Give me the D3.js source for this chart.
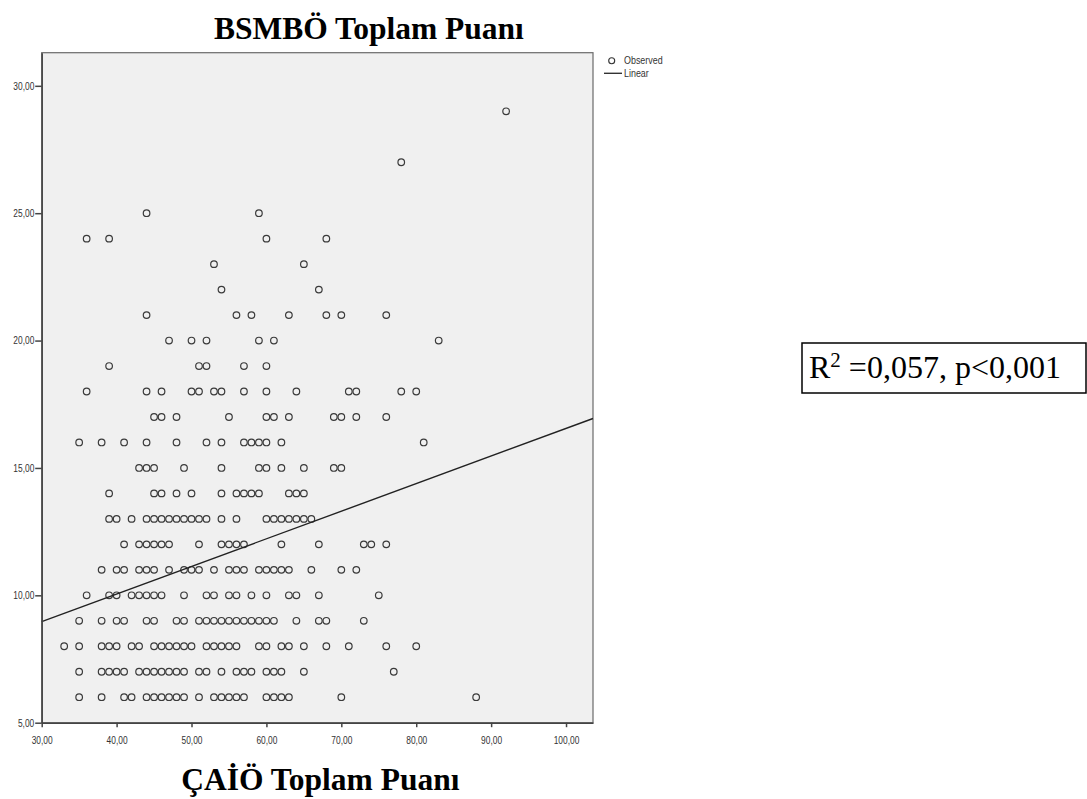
<!DOCTYPE html>
<html>
<head>
<meta charset="utf-8">
<script src="https://cdn.jsdelivr.net/npm/d3@7"></script>
<style>
  html, body { margin: 0; padding: 0; background: #ffffff; }
  svg { display: block; }
</style>
</head>
<body>
<svg id="chart" width="1087" height="799"></svg>
<script>
// ---------------- DATA ----------------
const titleTop = "BSMBÖ Toplam Puanı";
const titleBottom = "ÇAİÖ Toplam Puanı";
const xTicks = [30, 40, 50, 60, 70, 80, 90, 100];
const yTicks = [5, 10, 15, 20, 25, 30];
const xDomain = [30, 103.6];
const yDomain = [5, 31.3];

// Observed points: each y level with the x values read at that level
const yLevels = [6, 7, 8, 9, 10, 11, 12, 13, 14, 15, 16, 17, 18, 19, 20, 21, 22, 23, 24, 25, 27, 29];
const xAtLevel = [
  [35,38,41,42,44,45,46,47,48,49,51,53,54,55,56,57,60,61,62,63,70,88],
  [35,38,39,40,41,43,44,45,46,47,48,49,51,52,54,56,57,58,60,61,62,65,77],
  [33,35,38,39,40,42,43,45,46,47,48,49,50,52,53,54,55,56,59,60,62,63,65,68,71,76,80],
  [35,38,40,41,44,45,48,49,51,52,53,54,55,56,57,58,59,60,61,64,67,68,73],
  [36,39,40,42,43,44,45,46,49,52,53,55,56,58,60,63,64,67,75],
  [38,40,41,43,44,45,47,49,50,51,53,55,56,57,59,60,61,62,63,66,70,72],
  [41,43,44,45,46,47,51,54,55,56,57,62,67,73,74,76],
  [39,40,42,44,45,46,47,48,49,50,51,52,54,56,60,61,62,63,64,65,66],
  [39,45,46,48,50,54,56,57,58,59,63,64,65],
  [43,44,45,49,54,59,60,62,65,69,70],
  [35,38,41,44,48,52,54,57,58,59,60,62,81],
  [45,46,48,55,60,61,63,69,70,72,76],
  [36,44,46,50,51,53,54,57,60,64,71,72,78,80],
  [39,51,52,57,60],
  [47,50,52,59,61,83],
  [44,56,58,63,68,70,76],
  [54,67],
  [53,65],
  [36,39,60,68],
  [44,59],
  [78],
  [92]
];

// Linear fit line end points
const fitX = [30, 103.6];
const fitY = [8.97, 16.94];

const legendLabels = ["Observed", "Linear"];
const statText = ["R", "2", " =0,057, p<0,001"];

// ---------------- CHART ----------------
const svg = d3.select("#chart");
const pLeft = 41.7, pRight = 593, pTop = 52.7, pBottom = 722.7;

const x = d3.scaleLinear().domain(xDomain).range([pLeft, pRight]);
const y = d3.scaleLinear().domain(yDomain).range([pBottom, pTop]);
const fmt = v => d3.format(".2f")(v).replace(".", ",");

// plot background / frame
svg.append("rect")
  .attr("x", pLeft).attr("y", pTop)
  .attr("width", pRight - pLeft).attr("height", pBottom - pTop)
  .attr("fill", "#f0f0f0")
  .attr("stroke", "#6a6a6a").attr("stroke-width", 1.2);

// points
const points = [];
yLevels.forEach((lv, i) => xAtLevel[i].forEach(xv => points.push({x: xv, y: lv})));

svg.append("g").selectAll("circle")
  .data(points).enter().append("circle")
  .attr("cx", d => x(d.x)).attr("cy", d => y(d.y))
  .attr("r", 3.3)
  .attr("fill", "none")
  .attr("stroke", "#3a3a3a")
  .attr("stroke-width", 1.2);

// fit line
svg.append("path")
  .datum(fitX.map((v, i) => [v, fitY[i]]))
  .attr("d", d3.line().x(d => x(d[0])).y(d => y(d[1])))
  .attr("stroke", "#222").attr("stroke-width", 1.4).attr("fill", "none");

// axes
const xAxis = svg.append("g")
  .attr("transform", `translate(0,${pBottom})`)
  .call(d3.axisBottom(x).tickValues(xTicks).tickFormat(fmt).tickSize(4.5).tickPadding(9.5).tickSizeOuter(0));
const yAxis = svg.append("g")
  .attr("transform", `translate(${pLeft},0)`)
  .call(d3.axisLeft(y).tickValues(yTicks).tickFormat(fmt).tickSize(6.5).tickSizeOuter(0));

[xAxis, yAxis].forEach(a => {
  a.select(".domain").attr("stroke", "#444").attr("stroke-width", 1.5);
  a.selectAll(".tick line").attr("stroke", "#444").attr("stroke-width", 1.5);
  a.selectAll(".tick text")
    .attr("font-family", "'Liberation Sans', Arial, sans-serif")
    .attr("font-size", 10.5)
    .attr("fill", "#333");
});
xAxis.selectAll(".tick text").attr("transform", "scale(0.8,1)");
yAxis.selectAll(".tick text").attr("x", -7.4 / 0.8).attr("transform", "scale(0.8,1)");

// titles
svg.append("text")
  .attr("x", 214).attr("y", 39)
  .attr("text-anchor", "start")
  .attr("font-family", "'Liberation Serif', 'Times New Roman', serif")
  .attr("font-weight", "bold").attr("font-size", 31.5)
  .attr("fill", "#000")
  .text(titleTop);

svg.append("text")
  .attr("x", (pLeft + pRight) / 2 + 3).attr("y", 790)
  .attr("text-anchor", "middle")
  .attr("font-family", "'Liberation Serif', 'Times New Roman', serif")
  .attr("font-weight", "bold").attr("font-size", 31.5)
  .attr("fill", "#000")
  .text(titleBottom);

// legend
const lg = svg.append("g")
  .attr("font-family", "'Liberation Sans', Arial, sans-serif")
  .attr("font-size", 10.5).attr("fill", "#333");
lg.append("circle").attr("cx", 611.7).attr("cy", 60.7).attr("r", 3)
  .attr("fill", "none").attr("stroke", "#333").attr("stroke-width", 1.1);
lg.append("text").attr("x", 624 / 0.85).attr("y", 64.5).attr("transform", "scale(0.85,1)").text(legendLabels[0]);
lg.append("line").attr("x1", 604).attr("x2", 622).attr("y1", 73.3).attr("y2", 73.3)
  .attr("stroke", "#333").attr("stroke-width", 1.4);
lg.append("text").attr("x", 624 / 0.85).attr("y", 77).attr("transform", "scale(0.85,1)").text(legendLabels[1]);

// stat box
svg.append("rect")
  .attr("x", 802).attr("y", 343).attr("width", 284).attr("height", 50)
  .attr("fill", "#fff").attr("stroke", "#000").attr("stroke-width", 1.5);
const st = svg.append("text")
  .attr("x", 809).attr("y", 378)
  .attr("font-family", "'Liberation Serif', 'Times New Roman', serif")
  .attr("font-size", 32).attr("fill", "#000");
st.append("tspan").text(statText[0]);
st.append("tspan").attr("font-size", 21).attr("dy", -11).text(statText[1]);
st.append("tspan").attr("dy", 11).text(statText[2]);
</script>
</body>
</html>
